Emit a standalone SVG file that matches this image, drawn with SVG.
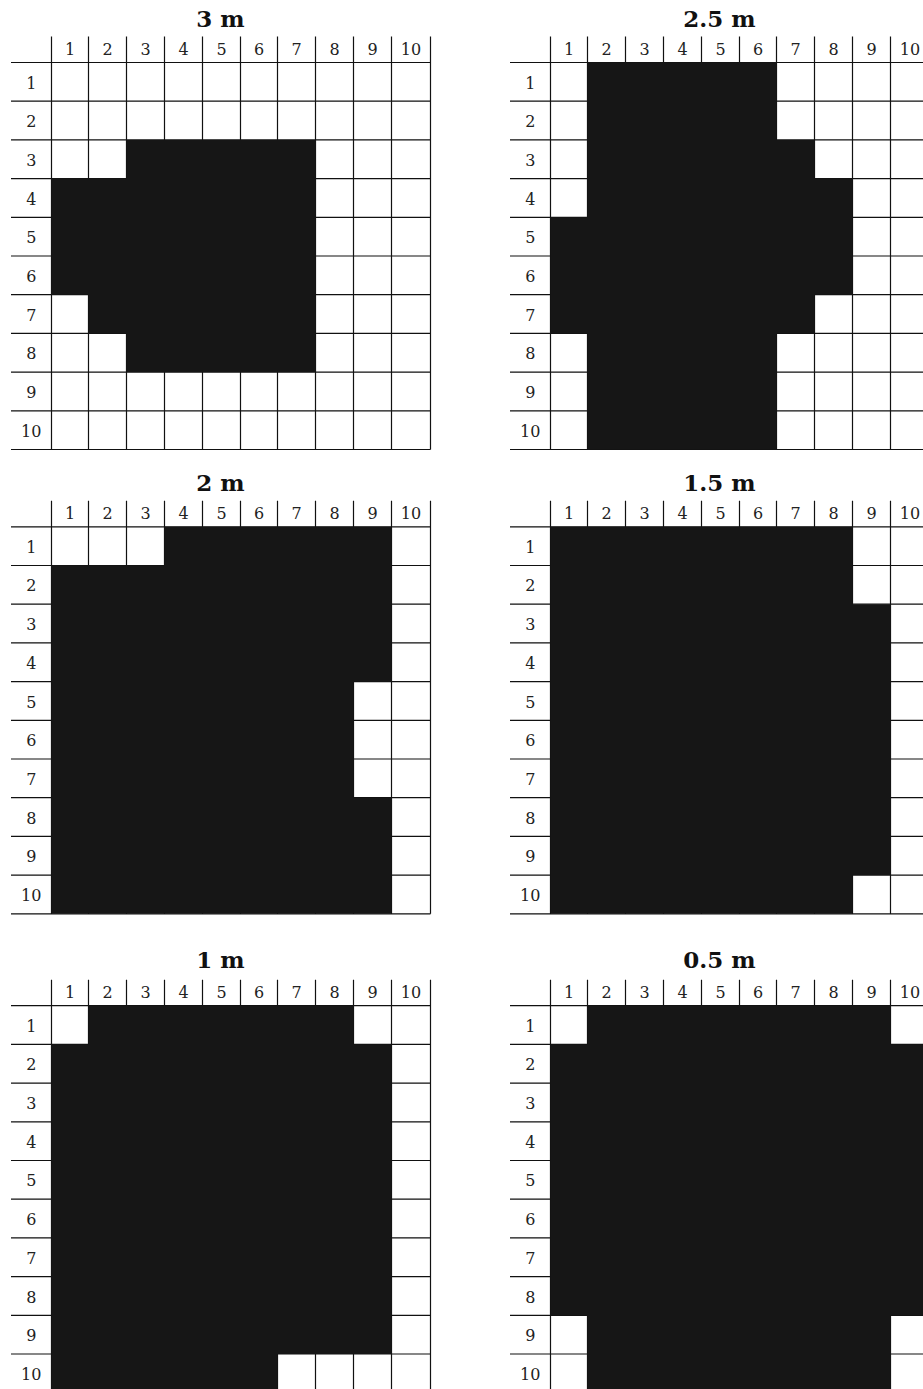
<svg xmlns="http://www.w3.org/2000/svg" xmlns:xlink="http://www.w3.org/1999/xlink" width="923" height="1389" viewBox="0 0 923 1389">
<style>
.t{font-family:"DejaVu Serif","Liberation Serif",serif;font-weight:bold;font-size:23px;text-anchor:middle;fill:#111}
.n{font-family:"DejaVu Serif","Liberation Serif",serif;font-size:16px;text-anchor:middle;fill:#222}
.g{stroke:#111;stroke-width:1.2;fill:none}
.b{fill:#161616}
</style>
<defs>
<path id="lines" class="g" d="M11 62.5H430.5M11 101.2H430.5M11 139.9H430.5M11 178.6H430.5M11 217.3H430.5M11 256H430.5M11 294.7H430.5M11 333.4H430.5M11 372.1H430.5M11 410.8H430.5M11 449.5H430.5M51.5 36.5V449.5M88.5 36.5V449.5M126.5 36.5V449.5M164.5 36.5V449.5M202.5 36.5V449.5M240.5 36.5V449.5M277.5 36.5V449.5M315.5 36.5V449.5M353.5 36.5V449.5M391.5 36.5V449.5M430.5 36.5V449.5"/>
</defs>
<rect width="923" height="1389" fill="#fff"/>

<g id="grid-3m">
<use xlink:href="#lines" href="#lines"/>
<path class="b" d="M126.5 139.9H315.5V372.1H126.5V333.4H88.5V294.7H51.5V178.6H126.5Z"/>
<text class="t" x="220.5" y="27">3 m</text>
<text class="n" x="70" y="55">1</text><text class="n" x="107.5" y="55">2</text><text class="n" x="145.5" y="55">3</text><text class="n" x="183.5" y="55">4</text><text class="n" x="221.5" y="55">5</text><text class="n" x="259" y="55">6</text><text class="n" x="296.5" y="55">7</text><text class="n" x="334.5" y="55">8</text><text class="n" x="372.5" y="55">9</text><text class="n" x="411" y="55">10</text>
<text class="n" x="31.3" y="88.5">1</text><text class="n" x="31.3" y="127.2">2</text><text class="n" x="31.3" y="165.9">3</text><text class="n" x="31.3" y="204.6">4</text><text class="n" x="31.3" y="243.3">5</text><text class="n" x="31.3" y="282">6</text><text class="n" x="31.3" y="320.7">7</text><text class="n" x="31.3" y="359.4">8</text><text class="n" x="31.3" y="398.1">9</text><text class="n" x="31.3" y="436.8">10</text>
</g>

<g id="grid-2-5m" transform="translate(499,0)">
<use xlink:href="#lines" href="#lines"/>
<path class="b" d="M88.5 62.5H277.5V139.9H315.5V178.6H353.5V294.7H315.5V333.4H277.5V449.5H88.5V333.4H51.5V217.3H88.5Z"/>
<text class="t" x="220.5" y="27">2.5 m</text>
<text class="n" x="70" y="55">1</text><text class="n" x="107.5" y="55">2</text><text class="n" x="145.5" y="55">3</text><text class="n" x="183.5" y="55">4</text><text class="n" x="221.5" y="55">5</text><text class="n" x="259" y="55">6</text><text class="n" x="296.5" y="55">7</text><text class="n" x="334.5" y="55">8</text><text class="n" x="372.5" y="55">9</text><text class="n" x="411" y="55">10</text>
<text class="n" x="31.3" y="88.5">1</text><text class="n" x="31.3" y="127.2">2</text><text class="n" x="31.3" y="165.9">3</text><text class="n" x="31.3" y="204.6">4</text><text class="n" x="31.3" y="243.3">5</text><text class="n" x="31.3" y="282">6</text><text class="n" x="31.3" y="320.7">7</text><text class="n" x="31.3" y="359.4">8</text><text class="n" x="31.3" y="398.1">9</text><text class="n" x="31.3" y="436.8">10</text>
</g>

<g id="grid-2m" transform="translate(0,464.3)">
<use xlink:href="#lines" href="#lines"/>
<path class="b" d="M164.5 62.5H391.5V217.3H353.5V333.4H391.5V449.5H51.5V101.2H164.5Z"/>
<text class="t" x="220.5" y="27">2 m</text>
<text class="n" x="70" y="55">1</text><text class="n" x="107.5" y="55">2</text><text class="n" x="145.5" y="55">3</text><text class="n" x="183.5" y="55">4</text><text class="n" x="221.5" y="55">5</text><text class="n" x="259" y="55">6</text><text class="n" x="296.5" y="55">7</text><text class="n" x="334.5" y="55">8</text><text class="n" x="372.5" y="55">9</text><text class="n" x="411" y="55">10</text>
<text class="n" x="31.3" y="88.5">1</text><text class="n" x="31.3" y="127.2">2</text><text class="n" x="31.3" y="165.9">3</text><text class="n" x="31.3" y="204.6">4</text><text class="n" x="31.3" y="243.3">5</text><text class="n" x="31.3" y="282">6</text><text class="n" x="31.3" y="320.7">7</text><text class="n" x="31.3" y="359.4">8</text><text class="n" x="31.3" y="398.1">9</text><text class="n" x="31.3" y="436.8">10</text>
</g>

<g id="grid-1-5m" transform="translate(499,464.3)">
<use xlink:href="#lines" href="#lines"/>
<path class="b" d="M51.5 62.5H353.5V139.9H391.5V410.8H353.5V449.5H51.5Z"/>
<text class="t" x="220.5" y="27">1.5 m</text>
<text class="n" x="70" y="55">1</text><text class="n" x="107.5" y="55">2</text><text class="n" x="145.5" y="55">3</text><text class="n" x="183.5" y="55">4</text><text class="n" x="221.5" y="55">5</text><text class="n" x="259" y="55">6</text><text class="n" x="296.5" y="55">7</text><text class="n" x="334.5" y="55">8</text><text class="n" x="372.5" y="55">9</text><text class="n" x="411" y="55">10</text>
<text class="n" x="31.3" y="88.5">1</text><text class="n" x="31.3" y="127.2">2</text><text class="n" x="31.3" y="165.9">3</text><text class="n" x="31.3" y="204.6">4</text><text class="n" x="31.3" y="243.3">5</text><text class="n" x="31.3" y="282">6</text><text class="n" x="31.3" y="320.7">7</text><text class="n" x="31.3" y="359.4">8</text><text class="n" x="31.3" y="398.1">9</text><text class="n" x="31.3" y="436.8">10</text>
</g>

<g id="grid-1m" transform="translate(0,943.2)">
<use xlink:href="#lines" href="#lines"/>
<path class="b" d="M88.5 62.5H353.5V101.2H391.5V410.8H277.5V449.5H51.5V101.2H88.5Z"/>
<text class="t" x="220.5" y="24.5">1 m</text>
<text class="n" x="70" y="55">1</text><text class="n" x="107.5" y="55">2</text><text class="n" x="145.5" y="55">3</text><text class="n" x="183.5" y="55">4</text><text class="n" x="221.5" y="55">5</text><text class="n" x="259" y="55">6</text><text class="n" x="296.5" y="55">7</text><text class="n" x="334.5" y="55">8</text><text class="n" x="372.5" y="55">9</text><text class="n" x="411" y="55">10</text>
<text class="n" x="31.3" y="88.5">1</text><text class="n" x="31.3" y="127.2">2</text><text class="n" x="31.3" y="165.9">3</text><text class="n" x="31.3" y="204.6">4</text><text class="n" x="31.3" y="243.3">5</text><text class="n" x="31.3" y="282">6</text><text class="n" x="31.3" y="320.7">7</text><text class="n" x="31.3" y="359.4">8</text><text class="n" x="31.3" y="398.1">9</text><text class="n" x="31.3" y="436.8">10</text>
</g>

<g id="grid-0-5m" transform="translate(499,943.2)">
<use xlink:href="#lines" href="#lines"/>
<path class="b" d="M88.5 62.5H391.5V101.2H430.5V372.1H391.5V449.5H88.5V372.1H51.5V101.2H88.5Z"/>
<text class="t" x="220.5" y="24.5">0.5 m</text>
<text class="n" x="70" y="55">1</text><text class="n" x="107.5" y="55">2</text><text class="n" x="145.5" y="55">3</text><text class="n" x="183.5" y="55">4</text><text class="n" x="221.5" y="55">5</text><text class="n" x="259" y="55">6</text><text class="n" x="296.5" y="55">7</text><text class="n" x="334.5" y="55">8</text><text class="n" x="372.5" y="55">9</text><text class="n" x="411" y="55">10</text>
<text class="n" x="31.3" y="88.5">1</text><text class="n" x="31.3" y="127.2">2</text><text class="n" x="31.3" y="165.9">3</text><text class="n" x="31.3" y="204.6">4</text><text class="n" x="31.3" y="243.3">5</text><text class="n" x="31.3" y="282">6</text><text class="n" x="31.3" y="320.7">7</text><text class="n" x="31.3" y="359.4">8</text><text class="n" x="31.3" y="398.1">9</text><text class="n" x="31.3" y="436.8">10</text>
</g>
</svg>
